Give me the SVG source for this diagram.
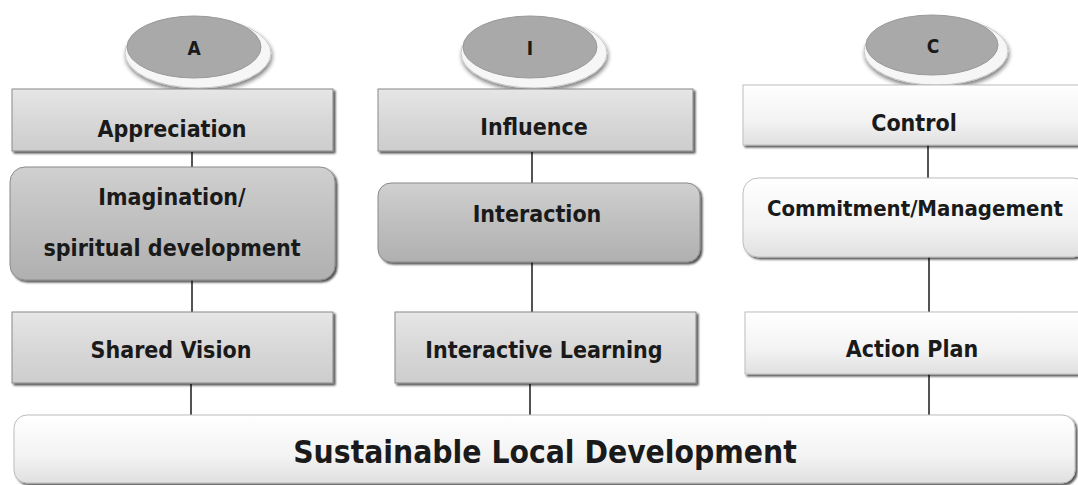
<svg xmlns="http://www.w3.org/2000/svg" width="1078" height="485" viewBox="0 0 1078 485">
<defs>
  <linearGradient id="gGray" x1="0" y1="0" x2="0" y2="1">
    <stop offset="0" stop-color="#e6e6e6"/>
    <stop offset="0.5" stop-color="#d8d8d8"/>
    <stop offset="1" stop-color="#cdcdcd"/>
  </linearGradient>
  <linearGradient id="gDark" x1="0" y1="0" x2="0" y2="1">
    <stop offset="0" stop-color="#d0d0d0"/>
    <stop offset="0.5" stop-color="#bfbfbf"/>
    <stop offset="1" stop-color="#b0b0b0"/>
  </linearGradient>
  <linearGradient id="gLight" x1="0" y1="0" x2="0" y2="1">
    <stop offset="0" stop-color="#ffffff"/>
    <stop offset="0.6" stop-color="#f3f3f3"/>
    <stop offset="1" stop-color="#e0e0e0"/>
  </linearGradient>
  <filter id="sh" x="-10%" y="-10%" width="120%" height="130%">
    <feGaussianBlur in="SourceAlpha" stdDeviation="1.2"/>
    <feOffset dx="1.5" dy="2" result="o"/>
    <feComponentTransfer><feFuncA type="linear" slope="0.7"/></feComponentTransfer>
    <feMerge><feMergeNode/><feMergeNode in="SourceGraphic"/></feMerge>
  </filter>
  <filter id="shE" x="-20%" y="-20%" width="140%" height="160%">
    <feGaussianBlur in="SourceAlpha" stdDeviation="2"/>
    <feOffset dx="1" dy="3" result="o"/>
    <feComponentTransfer><feFuncA type="linear" slope="0.5"/></feComponentTransfer>
    <feMerge><feMergeNode/><feMergeNode in="SourceGraphic"/></feMerge>
  </filter>
</defs>
<style>
  text { font-family: "DejaVu Sans Condensed", "DejaVu Sans", Verdana, sans-serif; font-weight: bold; fill: #1a1a1a; text-anchor: middle; }
  .lbl { font-size: 23px; }
  .mid { font-size: 22px; }
  .big { font-size: 31.5px; }
  .let { font-size: 19px; }
  .box { stroke: #8a8a8a; stroke-width: 1; filter: url(#sh); }
  .gray { fill: url(#gGray); }
  .dark { fill: url(#gDark); }
  .light { fill: url(#gLight); stroke: #bdbdbd; }
  .rim { fill: #f6f6f6; stroke: #c8c8c8; stroke-width: 1; filter: url(#shE); }
  .oval { fill: #a9a9a9; stroke: #9a9a9a; stroke-width: 1; }
  .conn line { stroke: #1a1a1a; stroke-width: 1.5; }
</style>

<g class="conn" id="connectors">
  <line x1="192" y1="152" x2="192" y2="167"/>
  <line x1="192" y1="280" x2="192" y2="312"/>
  <line x1="191" y1="384" x2="191" y2="415"/>
  <line x1="532" y1="152" x2="532" y2="183"/>
  <line x1="532" y1="262" x2="532" y2="312"/>
  <line x1="530" y1="384" x2="530" y2="415"/>
  <line x1="928" y1="145" x2="928" y2="178"/>
  <line x1="929" y1="257" x2="929" y2="312"/>
  <line x1="929" y1="374" x2="929" y2="415"/>
</g>

<g id="ovalA">
  <ellipse class="rim" cx="198" cy="53" rx="73" ry="35"/>
  <ellipse class="oval" cx="194" cy="47" rx="67" ry="31"/>
  <text class="let" x="194" y="55">A</text>
</g>
<g id="ovalI">
  <ellipse class="rim" cx="534" cy="53" rx="73" ry="35"/>
  <ellipse class="oval" cx="530" cy="47" rx="67" ry="31"/>
  <text class="let" x="530" y="55">I</text>
</g>
<g id="ovalC">
  <ellipse class="rim" cx="936" cy="51" rx="72" ry="34"/>
  <ellipse class="oval" cx="932" cy="45" rx="66" ry="30"/>
  <text class="let" x="933" y="53">C</text>
</g>

<g id="appreciation">
  <rect class="box gray" x="12" y="89" width="321" height="62"/>
  <text class="lbl" x="172" y="137">Appreciation</text>
</g>
<g id="imagination">
  <rect class="box dark" x="10" y="167" width="325" height="113" rx="15"/>
  <text class="lbl" x="172" y="205">Imagination/</text>
  <text class="lbl" x="172" y="256">spiritual development</text>
</g>
<g id="sharedVision">
  <rect class="box gray" x="12" y="312" width="321" height="71"/>
  <text class="lbl" x="171" y="358">Shared Vision</text>
</g>

<g id="influence">
  <rect class="box gray" x="378" y="89" width="315" height="62"/>
  <text class="lbl" x="534" y="135">Influence</text>
</g>
<g id="interaction">
  <rect class="box dark" x="378" y="183" width="322" height="79" rx="13"/>
  <text class="lbl" x="537" y="222">Interaction</text>
</g>
<g id="interactiveLearning">
  <rect class="box gray" x="395" y="312" width="301" height="71"/>
  <text class="lbl" x="544" y="358">Interactive Learning</text>
</g>

<g id="control">
  <rect class="box light" x="743" y="85" width="345" height="60"/>
  <text class="lbl" x="914" y="131">Control</text>
</g>
<g id="commitment">
  <rect class="box light" x="743" y="178" width="345" height="79" rx="15"/>
  <text class="mid" x="915" y="216">Commitment/Management</text>
</g>
<g id="actionPlan">
  <rect class="box light" x="745" y="312" width="343" height="62"/>
  <text class="lbl" x="912" y="357">Action Plan</text>
</g>

<g id="sustainable">
  <rect class="box light" x="14" y="415" width="1061" height="68" rx="13"/>
  <text class="big" x="545" y="463">Sustainable Local Development</text>
</g>
</svg>
